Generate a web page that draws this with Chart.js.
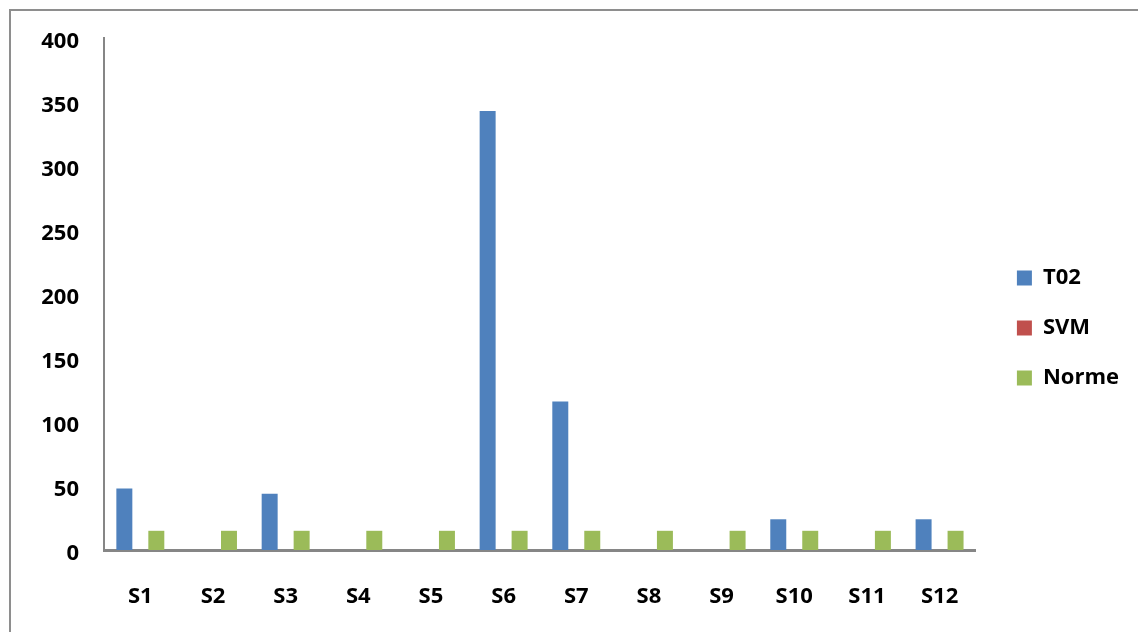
<!DOCTYPE html>
<html>
<head>
<meta charset="utf-8">
<script src="https://cdn.jsdelivr.net/npm/chart.js@4.4.1/dist/chart.umd.min.js"></script>
<style>
  html, body { margin: 0; padding: 0; background: #fff; overflow: hidden; }
  .frame {
    position: absolute; left: 9px; top: 9px;
    width: 1200px; height: 700px;
    border: 2px solid #8e8e8e;
  }
  .wrap { position: absolute; left: 0; top: 0; width: 1138px; height: 632px; }
</style>
</head>
<body>
<div class="frame"></div>
<div class="wrap"><canvas id="chart"></canvas></div>
<script>
const categories = ['S1','S2','S3','S4','S5','S6','S7','S8','S9','S10','S11','S12'];
const t02 = [48, 0, 44, 0, 0, 343, 116, 0, 0, 24, 0, 24];
const svm = [0, 0, 0, 0, 0, 0, 0, 0, 0, 0, 0, 0];
const norme = [15, 15, 15, 15, 15, 15, 15, 15, 15, 15, 15, 15];

const boldFont = { family: '"Open Sans", sans-serif', size: 22, weight: 'bold' };

new Chart(document.getElementById('chart'), {
  type: 'bar',
  data: {
    labels: categories,
    datasets: [
      { label: 'T02', data: t02, backgroundColor: '#4f81bd' },
      { label: 'SVM', data: svm, backgroundColor: '#c0504d' },
      { label: 'Norme', data: norme, backgroundColor: '#9bbb59' }
    ]
  },
  options: {
    responsive: true,
    maintainAspectRatio: false,
    animation: false,
    layout: { padding: { top: 38, left: 0, right: 9, bottom: 14 } },
    datasets: { bar: { categoryPercentage: 0.66, barPercentage: 1 } },
    plugins: {
      tooltip: { enabled: false },
      legend: {
        position: 'right',
        labels: { boxWidth: 15, boxHeight: 15, padding: 28, color: '#000', font: boldFont }
      }
    },
    scales: {
      x: {
        grid: { display: false },
        border: { color: '#868686', width: 3 },
        ticks: { color: '#000', font: boldFont, padding: 26, maxRotation: 0 },
        afterFit: (s) => { s.height = 68; }
      },
      y: {
        min: 0, max: 400,
        grid: { display: false },
        border: { color: '#868686', width: 2 },
        ticks: { stepSize: 50, color: '#000', font: boldFont, padding: 17, labelOffset: 4 },
        afterFit: (s) => { s.width = 104; }
      },
      // empty gap between the plot and the legend
      gap: {
        position: 'right',
        grid: { display: false },
        border: { display: false },
        ticks: { display: false },
        afterFit: (s) => { s.width = 13; }
      }
    }
  }
});
</script>
</body>
</html>
